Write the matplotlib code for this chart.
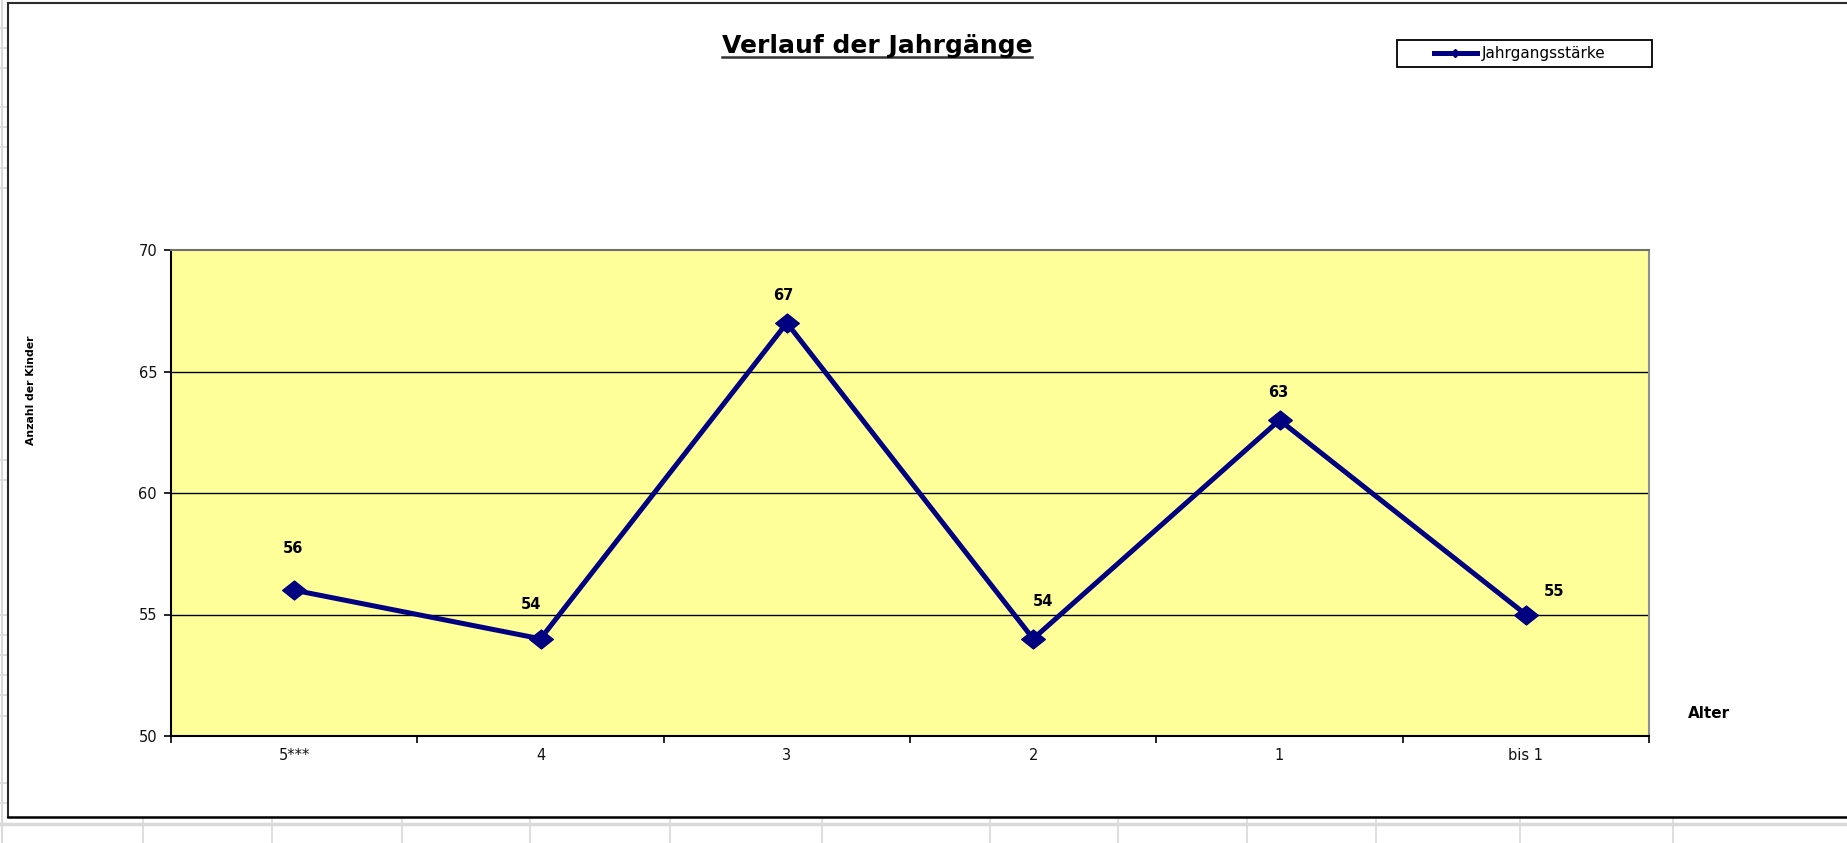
import matplotlib
matplotlib.use("Agg")
import matplotlib.pyplot as plt
from matplotlib.lines import Line2D
from matplotlib.patches import Rectangle
from matplotlib.path import Path

# ---- data ----
categories = ["5***", "4", "3", "2", "1", "bis 1"]
values = [56, 54, 67, 54, 63, 55]
series_name = "Jahrgangsstärke"
y_ticks = [50, 55, 60, 65, 70]
title = "Verlauf der Jahrgänge"
x_title = "Alter"
y_title = "Anzahl der Kinder"

# ---- layout ----
W, H = 1847, 843
DPI = 100
plt.rcParams['font.family'] = ['DejaVu Sans']

fig = plt.figure(figsize=(W / DPI, H / DPI), dpi=DPI)
fig.patch.set_facecolor("white")

def fx(x):
    return x / W

def fy(y):
    return 1 - y / H

# spreadsheet background decorations (grey cell lines)
grid_grey = "#D9D9D9"
left_rows = [28, 48, 68, 107, 127, 147, 168, 188, 460, 480, 615, 635, 655, 675, 695, 716, 783, 803]
for yy in left_rows:
    fig.add_artist(Line2D([fx(0), fx(8)], [fy(yy), fy(yy)], color=grid_grey, lw=1.2))
fig.add_artist(Line2D([fx(1.5), fx(1.5)], [fy(0), fy(843)], color=grid_grey, lw=1.5))
bottom_cols = [143, 272, 402, 530, 670, 822, 990, 1118, 1247, 1376, 1520, 1673]
for xx in bottom_cols:
    fig.add_artist(Line2D([fx(xx), fx(xx)], [fy(819), fy(843)], color=grid_grey, lw=1.2))
fig.add_artist(Line2D([fx(0), fx(W)], [fy(823.5), fy(823.5)], color=grid_grey, lw=2.5))

# chart outer frame
frame_c = "#2b2b2b"
fig.add_artist(Line2D([fx(8), fx(8)], [fy(3), fy(817)], color=frame_c, lw=1.5))
fig.add_artist(Line2D([fx(8), fx(W)], [fy(3), fy(3)], color=frame_c, lw=1.5))
fig.add_artist(Line2D([fx(8), fx(W)], [fy(817), fy(817)], color="black", lw=1.8))

# plot area
ax = fig.add_axes([fx(171), fy(736), (1649 - 171) / W, (736 - 250) / H])
ax.set_facecolor("#FFFF99")

x = [i + 0.5 for i in range(len(categories))]
diamond = Path([(-1, 0), (0, 0.8), (1, 0), (0, -0.8), (-1, 0)],
               [Path.MOVETO, Path.LINETO, Path.LINETO, Path.LINETO, Path.CLOSEPOLY])
ax.plot(x, values, color="#000080", lw=3.6, marker=diamond, markersize=17,
        markerfacecolor="#000080", markeredgecolor="#000080", zorder=3,
        solid_joinstyle="miter")

ax.set_xlim(0, len(categories))
ax.set_ylim(y_ticks[0], y_ticks[-1])
ax.set_yticks(y_ticks)
ax.set_yticklabels([str(v) for v in y_ticks], fontsize=10.5, color="#111111")
ax.set_xticks(range(len(categories) + 1))
ax.set_xticklabels([])
ax.set_xticks(x, minor=True)
ax.set_xticklabels(categories, minor=True, fontsize=10.5, color="#111111")
ax.tick_params(axis="x", which="minor", length=0, pad=9)
ax.tick_params(axis="x", which="major", length=5, width=1.2, direction="out", color="black")
ax.tick_params(axis="y", length=5, width=1.2, direction="out", pad=5, color="black")

for yv in y_ticks[1:-1]:
    ax.axhline(yv, color="black", lw=1.0, zorder=1)

ax.spines["left"].set_color("black")
ax.spines["left"].set_linewidth(1.5)
ax.spines["bottom"].set_color("black")
ax.spines["bottom"].set_linewidth(1.5)
ax.spines["top"].set_color("#707070")
ax.spines["top"].set_linewidth(1.5)
ax.spines["right"].set_color("#909090")
ax.spines["right"].set_linewidth(1.5)

# data labels (offsets in pixels: dx, dy upward)
label_offsets = [(-1, 42), (-9, 34), (-4, 27), (10, 37), (-1, 28), (28, 23)]
for xi, v, (dx, dy) in zip(x, values, label_offsets):
    ax.annotate(str(v), (xi, v), xytext=(dx * 0.72, dy * 0.72), textcoords="offset points",
                ha="center", va="center", fontsize=10.5, fontweight="bold", color="black")

# axis titles
fig.text(fx(31), fy(390), y_title, rotation=90, ha="center", va="center",
         fontsize=7.8, fontweight="bold", color="black")
fig.text(fx(1709), fy(714), x_title, ha="center", va="center",
         fontsize=11, fontweight="bold", color="black")

# chart title with underline
t = fig.text(fx(877), fy(53), title, ha="center", va="baseline",
             fontsize=18, fontweight="bold", color="black")
fig.canvas.draw()
bb = t.get_window_extent(renderer=fig.canvas.get_renderer())
fig.add_artist(Line2D([bb.x0 / W, bb.x1 / W], [fy(57), fy(57)], color="#333333", lw=1.8))

# legend
fig.add_artist(Rectangle((fx(1397), fy(67)), (1652 - 1397) / W, 27 / H,
                         facecolor="white", edgecolor="black", lw=1.3, zorder=1))
handle = Line2D([], [], color="#000080", lw=3.6, marker="D", markersize=4,
                markerfacecolor="#000080", markeredgecolor="#000080")
leg = fig.legend([handle], [series_name], loc="center left",
                 bbox_to_anchor=(fx(1434), fy(53.5)), fontsize=11, frameon=False,
                 borderpad=0, handlelength=2.8, handletextpad=0.35, borderaxespad=0)
leg.set_zorder(2)

fig.savefig("out.png", dpi=DPI, facecolor="white")
